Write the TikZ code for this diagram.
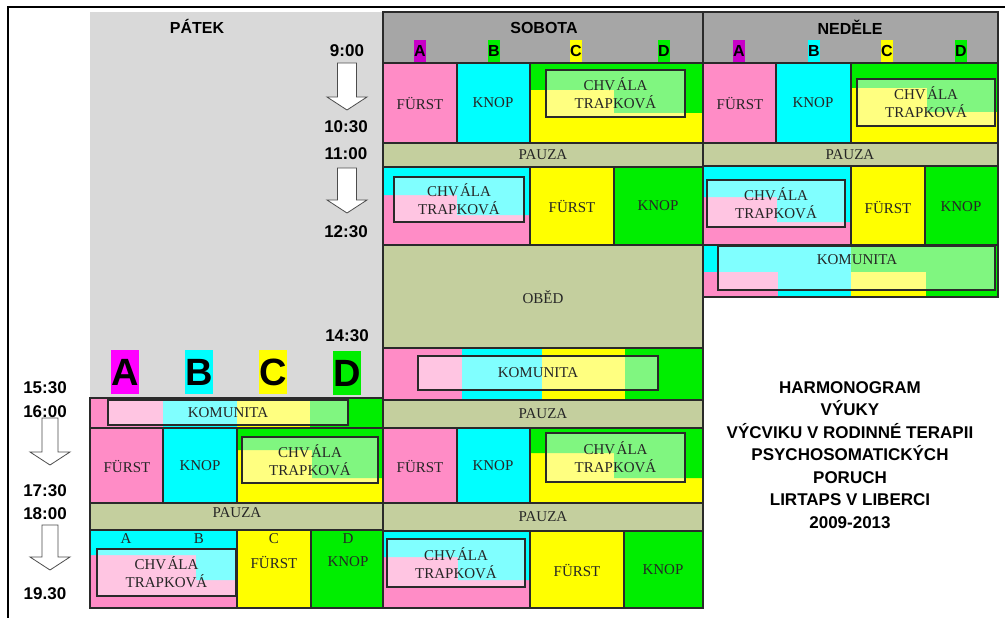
\documentclass[tikz,border=0pt]{standalone}
\usepackage{fontspec}
\setmainfont{Liberation Serif}
\setsansfont{Liberation Sans}
\definecolor{cPink}{HTML}{FF8CC6}
\definecolor{cCyan}{HTML}{00FFFF}
\definecolor{cYellow}{HTML}{FFFF00}
\definecolor{cGreen}{HTML}{00EE00}
\definecolor{cPauza}{HTML}{C4CF9E}
\definecolor{cFri}{HTML}{D9D9D9}
\definecolor{cHead}{HTML}{A6A6A6}
\definecolor{cMag}{HTML}{FF00FF}
\definecolor{cMagD}{HTML}{C800C8}
\definecolor{cLine}{HTML}{2A2A2A}
\definecolor{cText}{HTML}{262626}

\newcommand{\splitcell}[9]{%
  \fill[#8] (#1,#2) rectangle (#3,#4);
  \fill[#9] (#1,#2) -- (#3,#2) -- (#3,#7) -- (#6,#7) -- (#6,#5) -- (#1,#5) -- cycle;
  \draw[cell] (#1,#2) rectangle (#3,#4);}
\newcommand{\colcell}[5]{\filldraw[cell,fill=#5] (#1,#2) rectangle (#3,#4);}
\newcommand{\tbox}[6]{%
  \pgfmathsetmacro{\tbW}{#4-#2}\pgfmathsetmacro{\tbH}{#5-#3}%
  \node[tbox,minimum width=\tbW pt,minimum height=\tbH pt] (#1) at ({(#2+#4)/2},{(#3+#5)/2}) {#6};}
\newcommand{\timearrow}[6]{%
  \draw[arr] ({#1-#5},#2) -- ({#1+#5},#2) -- ({#1+#5},#3) -- ({#1+#6},#3) -- (#1,#4)
    -- ({#1-#6},#3) -- ({#1-#5},#3) -- cycle;}
\newcommand{\chvt}{CHV\kern1.5pt ÁLA\\TRAPKOVÁ}

\begin{document}
\begin{tikzpicture}[x=1pt,y=-1pt,
    cell/.style={draw=cLine,line width=1.1pt},
    lbl/.style={text=cText,font=\fontsize{15}{17}\selectfont},
    tbox/.style={draw=cLine,line width=1.1pt,fill=white,fill opacity=0.5,text opacity=1,
      text=cText,align=center,inner sep=0pt,font=\fontsize{15}{18}\selectfont},
    time/.style={font=\sffamily\bfseries\fontsize{17}{19}\selectfont},
    day/.style={font=\sffamily\bfseries\fontsize{16}{18}\selectfont},
    hlet/.style={font=\sffamily\bfseries\fontsize{16}{18}\selectfont,inner xsep=0pt,
      inner ysep=0pt,minimum height=22pt},
    big/.style={font=\sffamily\bfseries\fontsize{38}{40}\selectfont,inner xsep=0pt,
      inner ysep=0pt,minimum height=44pt},
    arr/.style={draw=black!70,line width=0.8pt,fill=white}]
\useasboundingbox (0,0) rectangle (1005,618);
\fill[white] (0,0) rectangle (1005,618);
\draw[line width=2.2pt] (8,618) -- (8,7) -- (1005,7);

\fill[cFri] (90,12) rectangle (383,398);
\filldraw[cell,fill=cHead] (383,12) rectangle (703,63);
\filldraw[cell,fill=cHead] (703,12) rectangle (998,63);
\node[day] (fri) at (197,26) {PÁTEK};
\node[day] (sat) at (544,28) {SOBOTA};
\node[day] (sun) at (850,27) {NEDĚLE};
\node[hlet,fill=cMagD] (satA) at (420,51) {A};
\node[hlet,fill=cGreen] (satB) at (494,51) {B};
\node[hlet,fill=cYellow] (satC) at (576,51) {C};
\node[hlet,fill=cGreen] (satD) at (664,51) {D};
\node[hlet,fill=cMagD] (sunA) at (739,51) {A};
\node[hlet,fill=cCyan] (sunB) at (814,51) {B};
\node[hlet,fill=cYellow] (sunC) at (887,51) {C};
\node[hlet,fill=cGreen] (sunD) at (961,51) {D};

\node[time] (t900) at (347,51) {9:00};
\node[time] (t1030) at (346,127) {10:30};
\node[time] (t1100) at (346,154) {11:00};
\node[time] (t1230) at (346,232) {12:30};
\node[time] (t1430) at (347,336) {14:30};
\node[time] (t1530) at (45,388) {15:30};
\node[time] (t1600) at (45,412) {16:00};
\node[time] (t1730) at (45,491) {17:30};
\node[time] (t1800) at (45,514) {18:00};
\node[time] (t1930) at (45,594) {19.30};
\timearrow{347}{63}{97}{110}{9.5}{20}
\timearrow{347}{168}{200}{213}{9.5}{20}
\timearrow{50}{418}{452}{465}{8}{20}
\timearrow{50}{525}{557}{570}{8}{20}

\colcell{383}{63}{457}{143}{cPink}
\colcell{457}{63}{530}{143}{cCyan}
\splitcell{530}{63}{703}{143}{90}{614}{113}{cYellow}{cGreen}
\node[lbl] (s1a) at (420,103) {FÜRST};
\node[lbl] (s1b) at (493,103) {KNOP};
\tbox{s1c}{546}{70}{685}{117}{\chvt}
\colcell{383}{143}{703}{167}{cPauza}
\node[lbl] (sp1) at (543,155) {PAUZA};
\splitcell{383}{167}{530}{245}{195}{457}{215}{cPink}{cCyan}
\tbox{s2a}{394}{177}{524}{222}{\chvt}
\colcell{530}{167}{614}{245}{cYellow}
\colcell{614}{167}{703}{245}{cGreen}
\node[lbl] (s2c) at (572,206) {FÜRST};
\node[lbl] (s2d) at (658,206) {KNOP};
\colcell{383}{245}{703}{348}{cPauza}
\node[lbl] (lunch) at (543,297) {OBĚD};
\fill[cPink] (383,348) rectangle (462,400);
\fill[cCyan] (462,348) rectangle (542,400);
\fill[cYellow] (542,348) rectangle (625,400);
\fill[cGreen] (625,348) rectangle (703,400);
\draw[cell] (383,348) rectangle (703,400);
\tbox{s3}{418}{356}{658}{390}{KOMUNITA}
\colcell{383}{400}{703}{428}{cPauza}
\node[lbl] (sp2) at (543,414) {PAUZA};
\colcell{383}{428}{457}{503}{cPink}
\colcell{457}{428}{530}{503}{cCyan}
\splitcell{530}{428}{703}{503}{453}{614}{478}{cYellow}{cGreen}
\node[lbl] (s4a) at (420,466) {FÜRST};
\node[lbl] (s4b) at (493,466) {KNOP};
\tbox{s4c}{546}{433}{685}{482}{\chvt}
\colcell{383}{503}{703}{531}{cPauza}
\node[lbl] (sp3) at (543,517) {PAUZA};
\splitcell{383}{531}{530}{608}{557}{458}{580}{cPink}{cCyan}
\tbox{s5a}{387}{539}{525}{587}{\chvt}
\colcell{530}{531}{624}{608}{cYellow}
\colcell{624}{531}{703}{608}{cGreen}
\node[lbl] (s5c) at (577,570) {FÜRST};
\node[lbl] (s5d) at (663,570) {KNOP};

\colcell{703}{63}{776}{143}{cPink}
\colcell{776}{63}{851}{143}{cCyan}
\splitcell{851}{63}{998}{143}{88}{927}{112}{cYellow}{cGreen}
\node[lbl] (n1a) at (740,103) {FÜRST};
\node[lbl] (n1b) at (813,103) {KNOP};
\tbox{n1c}{857}{79}{995}{126}{\chvt}
\colcell{703}{143}{998}{166}{cPauza}
\node[lbl] (np1) at (850,155) {PAUZA};
\splitcell{703}{166}{851}{245}{197}{777}{222}{cPink}{cCyan}
\tbox{n2a}{707}{180}{845}{227}{\chvt}
\colcell{851}{166}{925}{245}{cYellow}
\colcell{925}{166}{998}{245}{cGreen}
\node[lbl] (n2c) at (888,207) {FÜRST};
\node[lbl] (n2d) at (961,207) {KNOP};
\fill[cPink] (703,245) rectangle (778,297);
\fill[cCyan] (778,245) rectangle (851,297);
\fill[cYellow] (851,245) rectangle (926,297);
\fill[cGreen] (926,245) rectangle (998,297);
\fill[cCyan] (703,245) rectangle (851,272);
\fill[cGreen] (851,245) rectangle (998,272);
\draw[cell] (703,245) rectangle (998,297);
\tbox{n3}{718}{246}{995}{290}{}
\node[lbl] (n3t) at (857,260) {KOMUNITA};

\node[big,fill=cMag] (fA) at (125,372) {A};
\node[big,fill=cCyan] (fB) at (199,372) {B};
\node[big,fill=cYellow] (fC) at (273,372) {C};
\node[big,fill=cGreen] (fD) at (347,373) {D};
\fill[cPink] (90,398) rectangle (163,428);
\fill[cCyan] (163,398) rectangle (237,428);
\fill[cYellow] (237,398) rectangle (310,428);
\fill[cGreen] (310,398) rectangle (383,428);
\draw[cell] (90,398) rectangle (383,428);
\tbox{f1}{108}{400}{348}{425}{KOMUNITA}
\colcell{90}{428}{163}{503}{cPink}
\colcell{163}{428}{237}{503}{cCyan}
\splitcell{237}{428}{383}{503}{450}{312}{478}{cYellow}{cGreen}
\node[lbl] (f2a) at (127,466) {FÜRST};
\node[lbl] (f2b) at (200,466) {KNOP};
\tbox{f2c}{242}{437}{378}{483}{\chvt}
\colcell{90}{503}{383}{530}{cPauza}
\node[lbl] (fp1) at (237,513) {PAUZA};
\splitcell{90}{530}{237}{608}{555}{196}{580}{cPink}{cCyan}
\tbox{f3a}{97}{549}{236}{596}{\chvt}
\colcell{237}{530}{311}{608}{cYellow}
\colcell{311}{530}{383}{608}{cGreen}
\node[lbl] (f3la) at (126,539) {A};
\node[lbl] (f3lb) at (199,539) {B};
\node[lbl] (f3lc) at (274,539) {C};
\node[lbl] (f3ld) at (348,539) {D};
\node[lbl] (f3c) at (274,562) {FÜRST};
\node[lbl] (f3d) at (348,562) {KNOP};

\node[font=\sffamily\bfseries\fontsize{17}{22.5}\selectfont,align=center] (title) at (850,455)
  {HARMONOGRAM\\VÝUKY\\VÝCVIKU V RODINNÉ TERAPII\\PSYCHOSOMATICKÝCH\\PORUCH\\LIRTAPS V LIBERCI\\2009-2013};
\end{tikzpicture}
\end{document}
